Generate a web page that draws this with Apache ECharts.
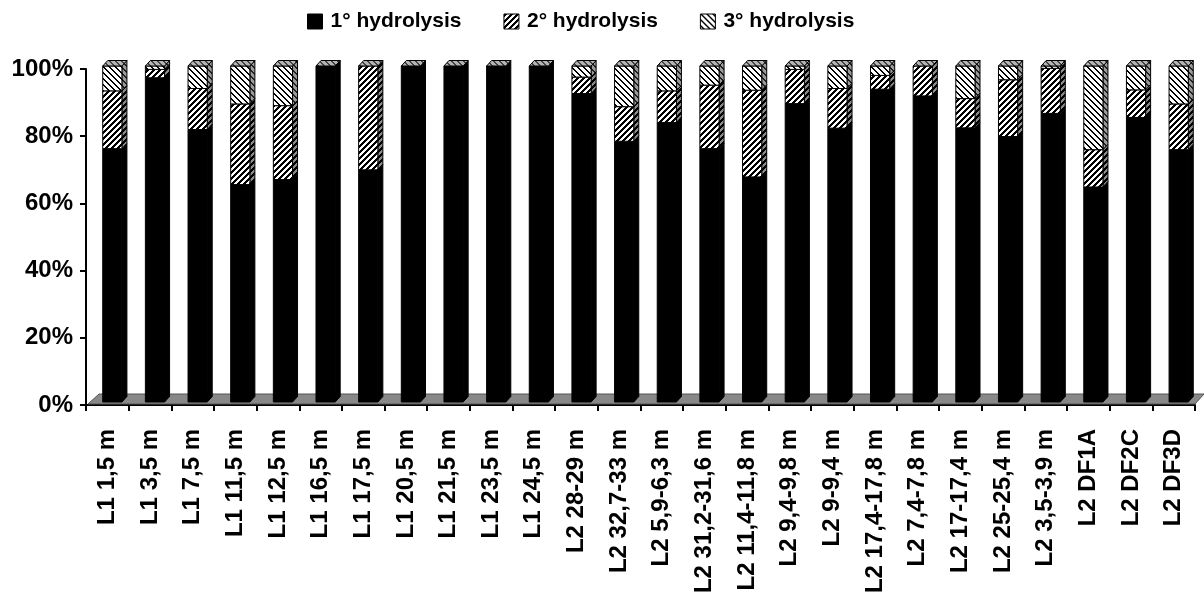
<!DOCTYPE html>
<html>
<head>
<meta charset="utf-8">
<script src="https://cdn.jsdelivr.net/npm/echarts@6/dist/echarts.min.js"></script>
<style>
html,body{margin:0;padding:0;background:#fff;}
#chart{width:1204px;height:605px;}
</style>
</head>
<body>
<div id="chart"></div>
<script>
// ---- data ----
const categories = ['L1 1,5 m','L1 3,5 m','L1 7,5 m','L1 11,5 m','L1 12,5 m','L1 16,5 m','L1 17,5 m','L1 20,5 m','L1 21,5 m','L1 23,5 m','L1 24,5 m',
  'L2 28-29 m','L2 32,7-33 m','L2 5,9-6,3 m','L2 31,2-31,6 m','L2 11,4-11,8 m','L2 9,4-9,8 m','L2 9-9,4 m','L2 17,4-17,8 m','L2 7,4-7,8 m',
  'L2 17-17,4 m','L2 25-25,4 m','L2 3,5-3,9 m','L2 DF1A','L2 DF2C','L2 DF3D'];
const hydrolysis1 = [75.4,96.5,81.1,64.7,66.2,100,69.1,100,100,100,100,91.8,77.6,83.2,75.4,67.0,88.8,81.5,93.1,91.1,81.6,79.0,85.9,64.0,84.7,75.1];
const hydrolysis2 = [17.2,2.5,12.2,24.0,22.0,0,30.9,0,0,0,0,4.9,10.3,9.4,18.9,25.8,10.2,11.8,4.1,8.9,8.7,16.9,13.4,11.1,8.2,13.6];
const hydrolysis3 = [7.4,1.0,6.7,11.3,11.8,0,0,0,0,0,0,3.3,12.1,7.4,5.7,7.2,1.0,6.7,2.8,0,9.7,4.1,0.7,24.9,7.1,11.3];
const yTicks = [0,20,40,60,80,100];
const seriesNames = ['1° hydrolysis','2° hydrolysis','3° hydrolysis'];

// ---- patterns ----
function makePattern(n, k, dir, fg, bg) {
  const c = document.createElement('canvas');
  c.width = n; c.height = n;
  const ctx = c.getContext('2d');
  const img = ctx.createImageData(n, n);
  const parse = h => [parseInt(h.substr(1,2),16), parseInt(h.substr(3,2),16), parseInt(h.substr(5,2),16)];
  const f = parse(fg), b = parse(bg);
  for (let y = 0; y < n; y++) for (let x = 0; x < n; x++) {
    const m = dir > 0 ? (x + y) % n : (((x - y) % n) + n) % n;
    const col = m < k ? f : b;
    const i = (y * n + x) * 4;
    img.data[i] = col[0]; img.data[i+1] = col[1]; img.data[i+2] = col[2]; img.data[i+3] = 255;
  }
  ctx.putImageData(img, 0, 0);
  return { image: c, repeat: 'repeat' };
}
const front = ['#000000', makePattern(6, 3, 1, '#000000', '#ffffff'), makePattern(6, 2, -1, '#000000', '#ffffff')];
const side = ['#000000', makePattern(6, 3, 1, '#000000', '#8a8a8a'), makePattern(6, 2, -1, '#202020', '#9a9a9a')];
const topFace = makePattern(6, 2, -1, '#444444', '#b4b4b4');

// cumulative stacks built from the arrays
const vals = [hydrolysis1, hydrolysis2, hydrolysis3];
const stacked = vals.map(() => []);
categories.forEach((c, i) => {
  let base = 0;
  vals.forEach((arr, s) => {
    stacked[s].push([i, base, base + arr[i]]);
    base += arr[i];
  });
});

const DX = 5, DY = 5.5, SX = 5, SY = -3;

function barRenderer(s) {
  return function (params, api) {
    const ci = api.value(0), lo = api.value(1), hi = api.value(2);
    const pLo = api.coord([ci, lo]);
    const pHi = api.coord([ci, hi]);
    const bw = api.size([1, 0])[0];
    const fw = bw * 0.45;
    const cx = pLo[0] + SX;
    const yb = pLo[1] + SY, yt = pHi[1] + SY;
    const xl = cx - fw / 2, xr = cx + fw / 2;
    const children = [];
    if (hi > lo) {
      children.push({
        type: 'polygon',
        shape: { points: [[xr, yb], [xr + DX, yb - DY], [xr + DX, yt - DY], [xr, yt]] },
        style: { fill: side[s], stroke: '#000', lineWidth: 1 }
      });
      children.push({
        type: 'rect',
        shape: { x: xl, y: yt, width: fw, height: yb - yt },
        style: { fill: front[s], stroke: '#000', lineWidth: 1 }
      });
    }
    if (s === 2) {
      children.push({
        type: 'polygon',
        shape: { points: [[xl, yt], [xr, yt], [xr + DX, yt - DY], [xl + DX, yt - DY]] },
        style: { fill: topFace, stroke: '#000', lineWidth: 1 }
      });
    }
    return { type: 'group', children: children };
  };
}

function floorRenderer(params, api) {
  const bw = api.size([1, 0])[0];
  const p0 = api.coord([0, 0]);
  const p1 = api.coord([categories.length - 1, 0]);
  const x0 = p0[0] - bw / 2, x1 = p1[0] + bw / 2, y0 = p0[1];
  return {
    type: 'polygon',
    shape: { points: [[x0 + 2, y0 - 1], [x1, y0 - 1], [x1 + 9, y0 - 11], [x0 + 13, y0 - 11]] },
    style: { fill: '#888888', stroke: '#555555', lineWidth: 1 }
  };
}

const chart = echarts.init(document.getElementById('chart'), null, { renderer: 'canvas' });
const fontFam = '"Liberation Sans", Arial, sans-serif';
const option = {
  animation: false,
  backgroundColor: '#ffffff',
  legend: {
    data: seriesNames,
    left: 302,
    top: 6,
    itemWidth: 15,
    itemHeight: 15,
    itemGap: 42,
    icon: 'rect',
    itemStyle: { borderColor: '#000', borderWidth: 1 },
    textStyle: { fontFamily: fontFam, fontWeight: 'bold', fontSize: 21, color: '#000', padding: [0, 0, 0, 3] }
  },
  grid: { left: 86, right: 9, top: 69, bottom: 200, containLabel: false, outerBoundsMode: 'none' },
  xAxis: {
    type: 'category',
    data: categories,
    boundaryGap: true,
    axisLine: { show: true, lineStyle: { color: '#000', width: 2 } },
    axisTick: { show: true, length: 6, lineStyle: { color: '#000', width: 2 } },
    axisLabel: { interval: 0, rotate: 90, margin: 24, fontFamily: fontFam, fontWeight: 'bold', fontSize: 24, color: '#000' },
    splitLine: { show: false }
  },
  yAxis: {
    type: 'value',
    min: yTicks[0],
    max: yTicks[yTicks.length - 1],
    interval: yTicks[1] - yTicks[0],
    axisLine: { show: true, lineStyle: { color: '#000', width: 2 } },
    axisTick: { show: true, length: 6, lineStyle: { color: '#000', width: 2 } },
    axisLabel: { margin: 13, formatter: '{value}%', fontFamily: fontFam, fontWeight: 'bold', fontSize: 24, color: '#000' },
    splitLine: { show: false }
  },
  series: [
    {
      type: 'custom', name: 'floor', silent: true, z: 1,
      renderItem: floorRenderer, data: [[0, 0]], encode: { x: 0, y: 1 }
    }
  ].concat(seriesNames.map((nm, s) => ({
    type: 'custom',
    name: nm,
    z: 2,
    renderItem: barRenderer(s),
    itemStyle: { color: front[s], borderColor: '#000', borderWidth: 1 },
    encode: { x: 0, y: [1, 2] },
    data: stacked[s]
  })))
};
chart.setOption(option);
</script>
</body>
</html>
